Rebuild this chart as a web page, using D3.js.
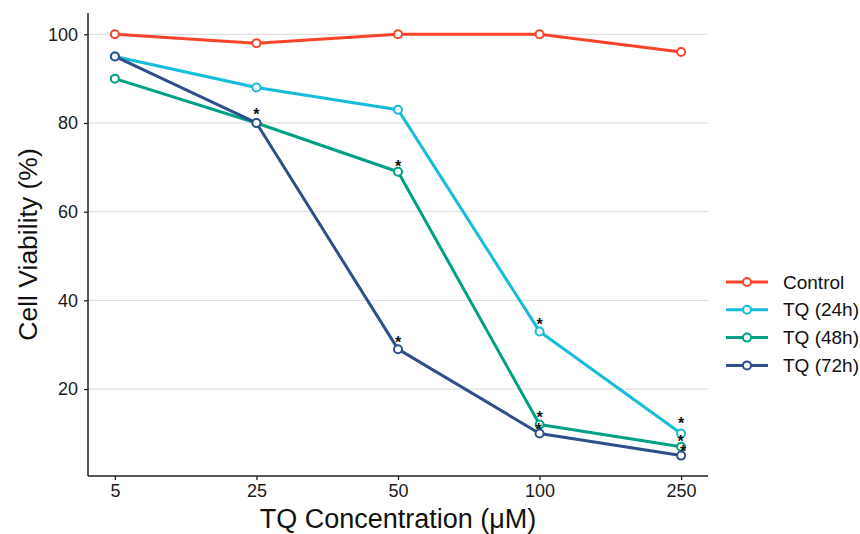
<!DOCTYPE html>
<html>
<head>
<meta charset="utf-8">
<script src="https://cdn.jsdelivr.net/npm/d3@7"></script>
<style>
  body{margin:0;background:#fff;}
  svg{display:block;font-family:"Liberation Sans",Arial,sans-serif;}
</style>
</head>
<body>
<div id="chart"></div>
<script>
// TQ dose-response, cell viability
const doses = ['5','25','50','100','250'];
const seriesNames = ['Control','TQ (24h)','TQ (48h)','TQ (72h)'];
const control = [100, 98, 100, 100, 96];
const tq24 = [95, 88, 83, 33, 10];
const tq48 = [90, 80, 69, 12, 7];
const tq72 = [95, 80, 29, 10, 5];
const yTicks = [20, 40, 60, 80, 100];
// significance marks: dose, y position (data units), small x nudge
const starDose = ['25','50','50','100','100','100','250','250','250'];
const starY    = [82.7, 71.0, 31.4, 35.4, 14.5, 11.8, 13.2, 9.0, 6.8];
const starNudge= [0, 0, 0, 0, 0, -1, 0, -0.5, 2];

const colors = ['#F9432B','#16BCD9','#00A087','#2E4F8A'];
const values = [control, tq24, tq48, tq72];

const W=860, H=534, m={l:88, r:152, t:13, b:58};
const svg = d3.select('#chart').append('svg').attr('width',W).attr('height',H);

const x = d3.scalePoint().domain(doses).range([m.l, W-m.r]).padding(0.19);
const y = d3.scaleLinear().domain([0.4, 104.8]).range([H-m.b, m.t]);

// grid
svg.append('g').selectAll('line').data(yTicks).join('line')
  .attr('x1',m.l).attr('x2',W-m.r).attr('y1',d=>y(d)).attr('y2',d=>y(d))
  .attr('stroke','#d9d9d9').attr('stroke-width',1);

// axes
const ax = svg.append('g').attr('transform',`translate(0,${H-m.b})`)
  .call(d3.axisBottom(x).tickSize(4).tickPadding(4));
const ay = svg.append('g').attr('transform',`translate(${m.l},0)`)
  .call(d3.axisLeft(y).tickValues(yTicks).tickSize(4).tickPadding(6));
[ax,ay].forEach(a=>{
  a.select('.domain').attr('stroke','#222').attr('stroke-width',1.5);
  a.selectAll('.tick line').attr('stroke','#222').attr('stroke-width',1.3);
  a.selectAll('.tick text').attr('font-size',18).attr('fill','#1a1a1a')
   .attr('font-family','"Liberation Sans",Arial,sans-serif');
});
ax.select('.domain').attr('d',`M${m.l},0H${W-m.r}`);
ay.select('.domain').attr('d',`M0,${y(0.4)}V${m.t}`);

// lines + points
const line = d3.line().x((d,i)=>x(doses[i])).y(d=>y(d));
values.forEach((vals,k)=>{
  const g = svg.append('g');
  g.append('path').datum(vals).attr('d',line).attr('fill','none')
    .attr('stroke',colors[k]).attr('stroke-width',3).attr('stroke-linejoin','round');
  g.selectAll('circle').data(vals).join('circle')
    .attr('cx',(d,i)=>x(doses[i])).attr('cy',d=>y(d)).attr('r',4)
    .attr('fill','#fff').attr('stroke',colors[k]).attr('stroke-width',2);
});

// stars
svg.append('g').selectAll('text').data(starY).join('text')
  .attr('x',(d,i)=>x(starDose[i])+starNudge[i]).attr('y',d=>y(d))
  .attr('dy','0.58em').attr('text-anchor','middle')
  .attr('font-size',16).attr('font-weight','bold').attr('fill','#111').text('*');

// axis titles
svg.append('text').attr('x',(m.l+W-m.r)/2).attr('y',528).attr('text-anchor','middle')
  .attr('font-size',27).attr('fill','#111').text('TQ Concentration (μM)');
svg.append('text').attr('transform',`translate(37,${(m.t+H-m.b)/2}) rotate(-90)`)
  .attr('text-anchor','middle').attr('font-size',26.5).attr('fill','#111').text('Cell Viability (%)');

// legend
const lg = svg.append('g').attr('transform','translate(726,282)');
seriesNames.forEach((s,k)=>{
  const r = lg.append('g').attr('transform',`translate(0,${k*27.8})`);
  r.append('line').attr('x1',0).attr('x2',42).attr('stroke',colors[k]).attr('stroke-width',3);
  r.append('circle').attr('cx',21).attr('r',4).attr('fill','#fff').attr('stroke',colors[k]).attr('stroke-width',2);
  r.append('text').attr('x',57).attr('dy','0.35em').attr('font-size',19).attr('fill','#111').text(s);
});
</script>
</body>
</html>
